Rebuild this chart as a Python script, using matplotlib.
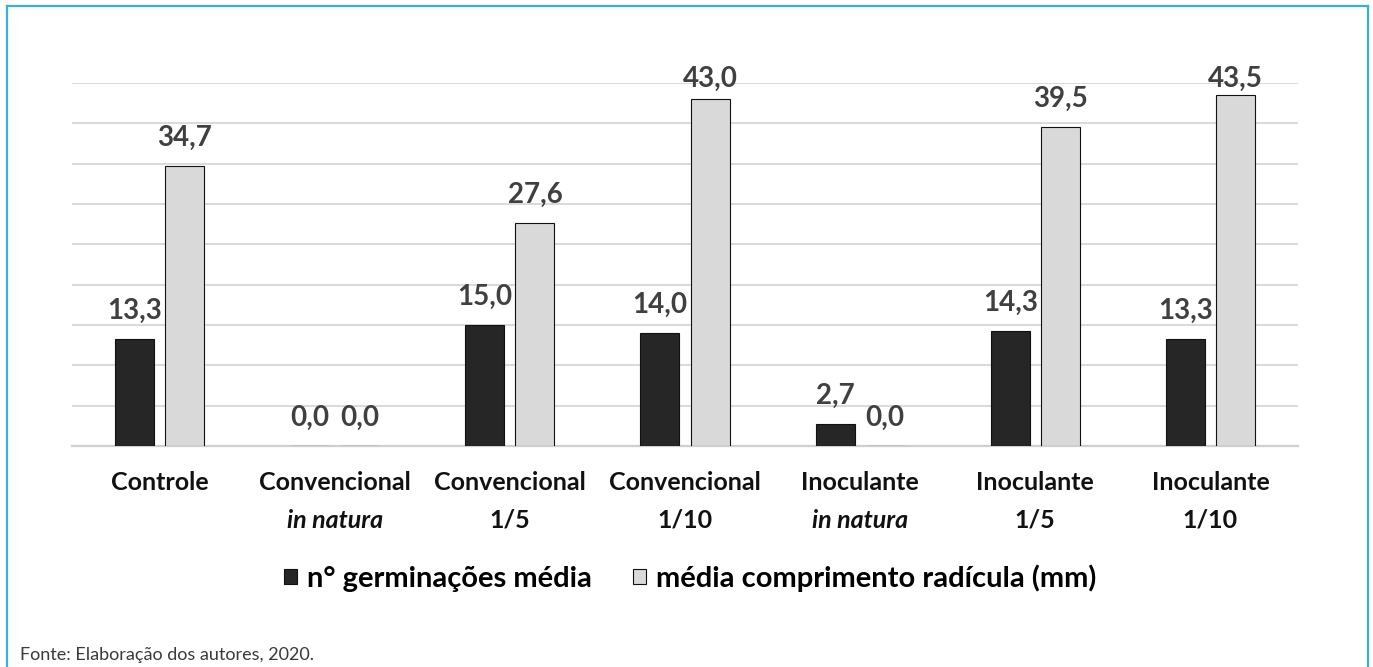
import numpy as np
import matplotlib
matplotlib.use('Agg')
import matplotlib.pyplot as plt
from matplotlib.patches import Patch
from matplotlib.lines import Line2D

# data
categorias = ['Controle', 'Convencional', 'Convencional', 'Convencional',
              'Inoculante', 'Inoculante', 'Inoculante']
subtitulos = ['', 'in natura', '1/5', '1/10', 'in natura', '1/5', '1/10']
germinacoes = [13.3, 0.0, 15.0, 14.0, 2.7, 14.3, 13.3]
radicula = [34.7, 0.0, 27.6, 43.0, 0.0, 39.5, 43.5]
serie_nomes = ['n° germinações média', 'média comprimento radícula (mm)']

plt.rcParams['font.family'] = ['Lato', 'DejaVu Sans']

fig = plt.figure(figsize=(13.73, 6.67), dpi=100)
ax = fig.add_axes([72/1373, 1-446/667, (1298-72)/1373, (446-83)/667])

x = np.arange(len(categorias))
w = 0.223
b1 = ax.bar(x - 0.143, germinacoes, w, color='#262626', edgecolor='#111111', linewidth=0.8, zorder=3)
b2 = ax.bar(x + 0.143, radicula, w, color='#d9d9d9', edgecolor='#111111', linewidth=0.8, zorder=3)

def fmt(v):
    return ('%.1f' % v).replace('.', ',')

# labels above bars; the tallest ones get pushed down to stay near the plot top (like excel)
for bars in (b1, b2):
    for r in bars:
        h = r.get_height()
        ax.annotate(fmt(h), (r.get_x() + r.get_width()/2, min(h, 42.0)), xytext=(0, 11),
                    textcoords='offset points', ha='center', va='bottom',
                    fontsize=20, fontweight='bold', color='#404040', clip_on=False)

ax.set_xlim(-0.5, len(categorias) - 0.5)
ax.set_ylim(0, 45)
ax.set_yticks(np.arange(0, 46, 5))
ax.yaxis.grid(True, color='#d9d9d9', linewidth=1.4, zorder=0)
ax.set_axisbelow(True)
for s in ['top', 'right', 'left']:
    ax.spines[s].set_visible(False)
ax.spines['bottom'].set_color('#cfcfcf')
ax.spines['bottom'].set_linewidth(1.6)
ax.tick_params(left=False, bottom=False, labelleft=False, labelbottom=False)

# category labels, two lines (second italic for "in natura")
for i, (c, s) in enumerate(zip(categorias, subtitulos)):
    ax.text(i, -4.5, c, ha='center', va='center', fontsize=18, fontweight='bold',
            color='#111111')
    if s:
        ax.text(i, -9.2, s, ha='center', va='center', fontsize=18, fontweight='bold',
                style='italic' if 'natura' in s else 'normal', color='#111111')

handles = [Patch(facecolor='#262626', edgecolor='#111111', linewidth=0.8),
           Patch(facecolor='#d9d9d9', edgecolor='#111111', linewidth=0.8)]
leg = fig.legend(handles, serie_nomes, loc='center', bbox_to_anchor=(690/1373, 1-578/667),
                 ncol=2, frameon=False, handlelength=0.45, handleheight=0.45,
                 handletextpad=0.35, columnspacing=1.4,
                 prop={'size': 21, 'weight': 'bold'})

fig.text(20/1373, 1-655/667, 'Fonte: Elaboração dos autores, 2020.', ha='left', va='center',
         fontsize=13, fontweight='normal', color='#3a3a3a')

# blue frame
bc = '#35b0e0'
fig.add_artist(Line2D([7/1373, 7/1373], [0, 1-6/667], color=bc, linewidth=1.6))
fig.add_artist(Line2D([1368/1373, 1368/1373], [0, 1-6/667], color=bc, linewidth=1.6))
fig.add_artist(Line2D([7/1373, 1368/1373], [1-6/667, 1-6/667], color=bc, linewidth=1.6))

fig.savefig('out.png', dpi=100)
